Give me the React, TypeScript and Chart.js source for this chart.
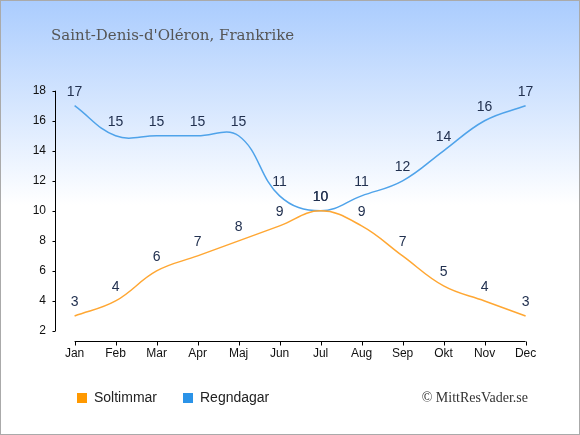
import React, { useEffect, useRef } from 'react';
import Chart from 'chart.js/auto';

const months = ['Jan', 'Feb', 'Mar', 'Apr', 'Maj', 'Jun', 'Jul', 'Aug', 'Sep', 'Okt', 'Nov', 'Dec'];
const sunHours = [3, 4, 6, 7, 8, 9, 10, 9, 7, 5, 4, 3];
const rainDays = [17, 15, 15, 15, 15, 11, 10, 11, 12, 14, 16, 17];
const yTicks = [2, 4, 6, 8, 10, 12, 14, 16, 18];

const SANS = "'Liberation Sans', Arial, sans-serif";

// axis lines sit apart from the plot, like the original
const axesPlugin = {
    id: 'detachedAxes',
    afterDraw(chart: any) {
        const { ctx, scales } = chart;
        const x = scales.x;
        const y = scales.y;
        const left = Math.round(x.getPixelForValue(0) - 20) + 0.5;
        const top = y.getPixelForValue(yTicks[yTicks.length - 1]);
        const bottom = y.getPixelForValue(yTicks[0]);
        const base = Math.round(bottom + 10) + 0.5;
        ctx.save();
        ctx.strokeStyle = '#000';
        ctx.lineWidth = 1;
        ctx.beginPath();
        ctx.moveTo(left, top);
        ctx.lineTo(left, bottom);
        yTicks.forEach((t) => {
            const py = Math.round(y.getPixelForValue(t)) + 0.5;
            ctx.moveTo(left - 3, py);
            ctx.lineTo(left, py);
        });
        ctx.moveTo(x.getPixelForValue(0), base);
        ctx.lineTo(x.getPixelForValue(months.length - 1), base);
        months.forEach((_, i) => {
            const px = Math.round(x.getPixelForValue(i)) + 0.5;
            ctx.moveTo(px, base);
            ctx.lineTo(px, base + 4);
        });
        ctx.stroke();

        ctx.fillStyle = '#333';
        ctx.font = "14px 'Liberation Serif', serif";
        ctx.textAlign = 'right';
        ctx.textBaseline = 'middle';
        ctx.fillText('© MittResVader.se', 528, 398);
        ctx.restore();
    },
};

const valueLabels = {
    id: 'valueLabels',
    afterDatasetsDraw(chart: any) {
        const { ctx } = chart;
        ctx.save();
        ctx.fillStyle = '#223150';
        ctx.font = '14px ' + SANS;
        ctx.textAlign = 'center';
        ctx.textBaseline = 'middle';
        chart.data.datasets.forEach((ds: any, i: number) => {
            chart.getDatasetMeta(i).data.forEach((pt: any, j: number) => {
                ctx.fillText(String(ds.data[j]), pt.x, pt.y - 13.5);
            });
        });
        ctx.restore();
    },
};

const App = () => {
    const chartRef = useRef<HTMLCanvasElement>(null);

    useEffect(() => {
        if (!chartRef.current) return;
        const chart = new Chart(chartRef.current, {
            type: 'line',
            data: {
                labels: months,
                datasets: [
                    {
                        label: 'Soltimmar',
                        data: sunHours,
                        borderColor: '#ffa733',
                        backgroundColor: '#ff9900',
                        borderWidth: 1.5,
                        pointRadius: 0,
                        fill: false,
                        tension: 0.4,
                    },
                    {
                        label: 'Regndagar',
                        data: rainDays,
                        borderColor: '#4fa3ea',
                        backgroundColor: '#2b93e8',
                        borderWidth: 1.5,
                        pointRadius: 0,
                        fill: false,
                        tension: 0.4,
                    },
                ],
            },
            options: {
                responsive: false,
                animation: false,
                layout: { padding: { left: 51, right: 54.4, top: 0, bottom: 20 } },
                scales: {
                    x: {
                        grid: { display: false, drawTicks: false },
                        border: { display: false },
                        ticks: { color: '#111', font: { family: SANS, size: 12 }, padding: 15 },
                        afterFit: (s: any) => { s.height = 34; },
                    },
                    y: {
                        min: 2,
                        max: 18,
                        grid: { display: false, drawTicks: false },
                        border: { display: false },
                        // mirrored + far so the labels can sit left of the axis box without clipping
                        ticks: {
                            stepSize: 2,
                            color: '#111',
                            font: { family: SANS, size: 12 },
                            mirror: true,
                            crossAlign: 'far',
                            padding: -41.9,
                        },
                        afterFit: (s: any) => { s.width = 23.6; },
                    },
                },
                plugins: {
                    title: {
                        display: true,
                        text: "Saint-Denis-d'Oléron, Frankrike",
                        align: 'start',
                        color: '#555',
                        font: { family: "'DejaVu Serif', serif", size: 15, weight: 'normal' },
                        padding: { top: 27, bottom: 45.7 },
                    },
                    legend: {
                        position: 'bottom',
                        align: 'start',
                        labels: {
                            boxWidth: 10,
                            boxHeight: 10,
                            padding: 26,
                            color: '#222',
                            font: { family: SANS, size: 14 },
                            generateLabels: (c: any) =>
                                Chart.defaults.plugins.legend.labels.generateLabels(c).map((l: any) => ({
                                    ...l,
                                    lineWidth: 0,
                                })),
                        },
                    },
                    tooltip: { enabled: false },
                },
            },
            plugins: [axesPlugin, valueLabels],
        });

        return () => {
            chart.destroy();
        };
    }, []);

    return (
        <div
            style={{
                position: 'absolute',
                left: 0,
                top: 0,
                width: 580,
                height: 435,
                background: 'linear-gradient(#aaccfe 0px, #ffffff 205px)',
                boxShadow: 'inset 0 0 0 1px #aaa',
            }}
        >
            <canvas ref={chartRef} width={580} height={435} />
        </div>
    );
};

export default App;
